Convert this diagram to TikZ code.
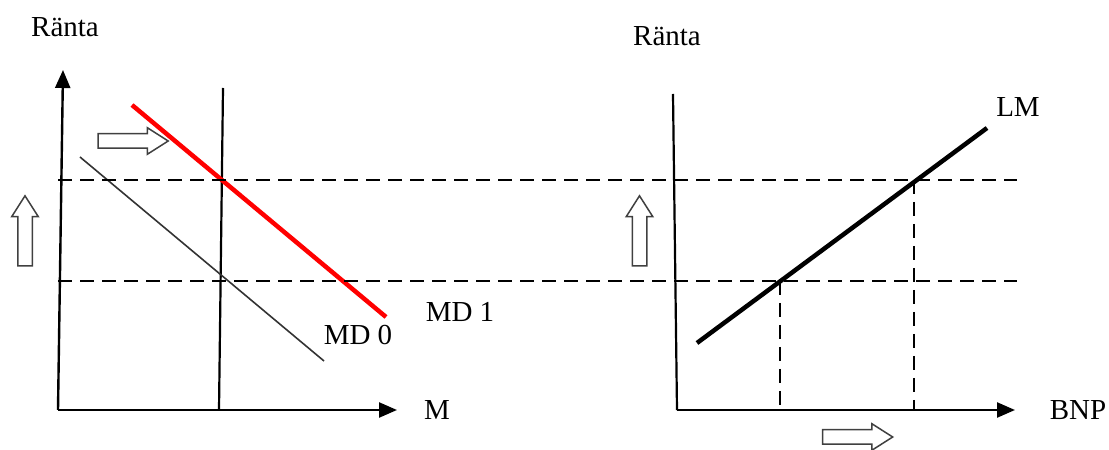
\documentclass[tikz,border=0pt]{standalone}
\usepackage{fontspec}
\setmainfont{Liberation Serif}
\usetikzlibrary{positioning,%
  arrows.meta,%
  shapes.arrows%
}

\begin{document}
\begin{tikzpicture}[x=1pt,y=1pt,
    lbl/.style={font=\fontsize{29}{32}\selectfont,inner sep=0pt},
    axis/.style={line width=2.4pt,-{Triangle[length=18pt,width=15pt]}},
    guide/.style={line width=2pt,dash pattern=on 14pt off 8pt},
    shiftarrow/.style={single arrow,draw=black!75,line width=1.5pt,fill=white,
      minimum height=70pt,inner sep=6.5pt,single arrow head extend=6pt,
      single arrow tip angle=65}]
  \useasboundingbox (0,0) rectangle (1109,450);

  % money market
  \coordinate (o1) at (58,40);
  \draw[axis] (o1) -- (63,380);
  \draw[axis] (o1) -- (397,40);
  \draw[line width=2.2pt] (219,40) -- (223,362);
  \draw[line width=1.6pt,black!80] (80,293) -- (324,89);
  \draw[line width=4.5pt,red] (132,345) -- (386,133);

  % interest levels, across both panels
  \draw[guide] (58,270) -- (1017,270);
  \draw[guide] (58,169) -- (1017,169);

  % LM panel
  \coordinate (o2) at (677,40);
  \coordinate (e0) at (780,169);
  \coordinate (e1) at (914,270);
  \draw[line width=2.2pt] (o2) -- (673,356);
  \draw[axis] (o2) -- (1015,40);
  \draw[line width=4.5pt] (697,107) -- (987,322);
  \draw[guide] (e0) -- (e0 |- o2);
  \draw[guide] (e1) -- (e1 |- o2);

  % shifts
  \node[shiftarrow,rotate=90] (upL) at (25,213.5) {};
  \node[shiftarrow] (mdshift) at (127.5,309) {};
  \node[shiftarrow,rotate=90] (upR) at (639.5,213.5) {};
  \node[shiftarrow] (yshift) at (852,13) {};

  % labels
  \node[lbl] (rantaL) at (65,423) {Ränta};
  \node[lbl] (rantaR) at (667,414) {Ränta};
  \node[lbl] (lblM) at (437,40) {M};
  \node[lbl] (lblBNP) at (1078,40) {BNP};
  \node[lbl] (lblMDa) at (460,138) {MD 1};
  \node[lbl] (lblMDo) at (358,115) {MD 0};
  \node[lbl] (lblLM) at (1018,343) {LM};
\end{tikzpicture}
\end{document}
